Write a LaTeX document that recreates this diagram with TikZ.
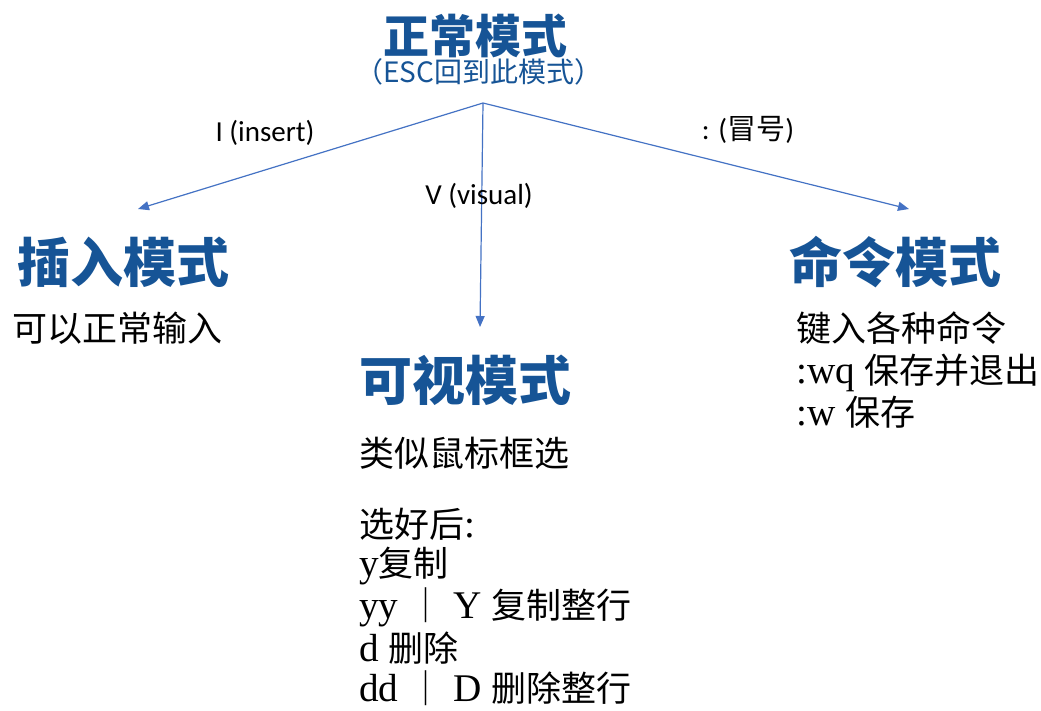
\documentclass[tikz,border=0pt]{standalone}
\usepackage{fontspec}
\setmainfont{Liberation Serif}[Scale=1.12]
\newfontfamily\cjk{Noto Sans CJK SC}
\newfontfamily\lbl{Carlito}
\usetikzlibrary{arrows.meta}
\definecolor{titleblue}{RGB}{22,84,150}
\definecolor{lineblue}{RGB}{68,114,196}
\tikzset{
  maintitle/.style={font=\cjk\bfseries\fontsize{46}{50}\selectfont, text=titleblue, inner sep=0pt},
  subtitle/.style={font=\cjk\fontsize{28}{32}\selectfont, text=titleblue, inner sep=0pt},
  modetitle/.style={font=\cjk\bfseries\fontsize{53}{58}\selectfont, text=titleblue, inner sep=0pt},
  bodytext/.style={font=\fontsize{35}{40}\selectfont, anchor=west, inner sep=0pt},
  edgelabel/.style={font=\lbl\fontsize{29}{33}\selectfont, inner sep=0pt},
  conn/.style={draw=lineblue, line width=1.2pt, -{Triangle[length=11pt,width=9pt]}}
}
\begin{document}
\begin{tikzpicture}[x=1pt,y=-1pt]
\useasboundingbox[fill=white] (0,0) rectangle (1041,710);
% titles
\node[maintitle] (normal) at (475,36) {正常模式};
\node[subtitle] (esc) at (479,72) {（ESC回到此模式）};
\node[modetitle] (insert) at (123,262) {插入模式};
\node[modetitle] (visual) at (465,380) {可视模式};
\node[modetitle] (command) at (895,262) {命令模式};
% connector endpoints
\coordinate (apex) at (483,103);
\coordinate (toinsert) at (138,209);
\coordinate (tovisual) at (480,327);
\coordinate (tocommand) at (909,209);
\draw[conn] (apex) -- (toinsert);
\draw[conn] (apex) -- (tovisual);
\draw[conn] (apex) -- (tocommand);
% edge labels
\node[edgelabel] (lblI) at (265,133) {I (insert)};
\node[edgelabel] (lblV) at (479,196) {V (visual)};
\node[edgelabel] (lblC) at (748,130) {: ({\cjk 冒号})};
% insert body
\node[bodytext] (ins1) at (12,328) {\cjk 可以正常输入};
% command body
\node[bodytext] (cmd1) at (796,328) {\cjk 键入各种命令};
\node[bodytext] (cmd2) at (796,373) {:wq {\cjk 保存并退出}};
\node[bodytext] (cmd3) at (796,412) {:w {\cjk 保存}};
% visual body
\node[bodytext] (vis1) at (359,453) {\cjk 类似鼠标框选};
\node[bodytext] (vis2) at (359,524) {{\cjk 选好后}:};
\node[bodytext] (vis3) at (359,566) {y{\cjk 复制}};
\node[bodytext] (vis4) at (359,607) {yy {\cjk ｜} Y {\cjk 复制整行}};
\node[bodytext] (vis5) at (359,648) {d {\cjk 删除}};
\node[bodytext] (vis6) at (359,688) {dd {\cjk ｜} D {\cjk 删除整行}};
\end{tikzpicture}
\end{document}
